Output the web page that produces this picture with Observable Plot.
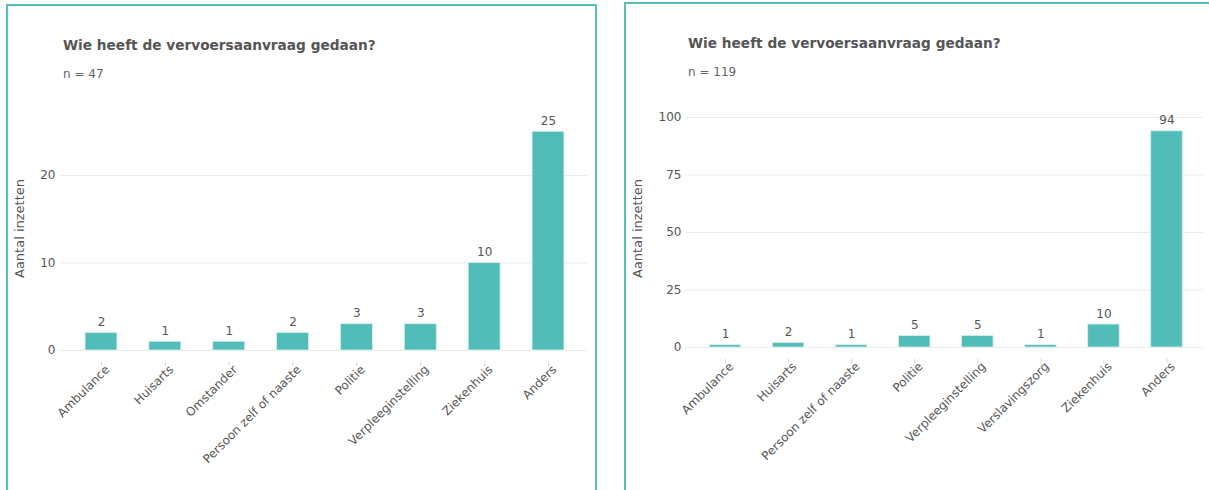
<!DOCTYPE html>
<html>
<head>
<meta charset="utf-8">
<script src="https://cdn.jsdelivr.net/npm/d3@7"></script>
<script src="https://cdn.jsdelivr.net/npm/@observablehq/plot@0.6"></script>
<style>
  html, body { margin: 0; padding: 0; background: #fff; width: 1209px; height: 490px; overflow: hidden; position: relative; font-family: "DejaVu Sans", sans-serif; }
  .panel { position: absolute; border: 2px solid #56bfba; box-sizing: border-box; }
  .title { position: absolute; font-size: 13.7px; font-weight: bold; color: #555; line-height: 1; white-space: nowrap; }
  .sub { position: absolute; font-size: 12px; color: #666; line-height: 1; white-space: nowrap; }
  .chart { position: absolute; }
  .chart svg { overflow: visible; }
</style>
</head>
<body>
<div class="panel" style="left:6px; top:4px; width:591px; height:520px;"></div>
<div class="panel" style="left:624px; top:2px; width:620px; height:520px;"></div>
<div class="title" style="left:63px; top:39px;">Wie heeft de vervoersaanvraag gedaan?</div>
<div class="sub" style="left:63px; top:68px;">n = 47</div>
<div class="title" style="left:688px; top:37px;">Wie heeft de vervoersaanvraag gedaan?</div>
<div class="sub" style="left:688px; top:66px;">n = 119</div>
<div id="left" class="chart" style="left:0px; top:90px;"></div>
<div id="right" class="chart" style="left:610px; top:90px;"></div>
<script>
// Left chart (n = 47)
const categoriesA = ["Ambulance", "Huisarts", "Omstander", "Persoon zelf of naaste", "Politie", "Verpleeginstelling", "Ziekenhuis", "Anders"];
const valuesA = [2, 1, 1, 2, 3, 3, 10, 25];
const yTicksA = [0, 10, 20];

// Right chart (n = 119)
const categoriesB = ["Ambulance", "Huisarts", "Persoon zelf of naaste", "Politie", "Verpleeginstelling", "Verslavingszorg", "Ziekenhuis", "Anders"];
const valuesB = [1, 2, 1, 5, 5, 1, 10, 94];
const yTicksB = [0, 25, 50, 75, 100];

const yLabel = "Aantal inzetten";
const barColor = "#52bcb8";
const textColor = "#555";

function makeChart({cats, vals, ticks, width, height, marginLeft, marginRight, marginTop, marginBottom, xRange, yDomain, yRange, labelDx}) {
  const data = cats.map((c, i) => ({cat: c, val: vals[i]}));
  return Plot.plot({
    width, height, marginLeft, marginRight, marginTop, marginBottom,
    style: {fontFamily: "DejaVu Sans, sans-serif", fontSize: "12px", color: textColor, background: "transparent"},
    x: {domain: cats, range: xRange, padding: 0.5, round: false},
    y: {domain: yDomain, range: yRange},
    marks: [
      Plot.gridY(ticks, {stroke: "#ebebeb", strokeOpacity: 1, strokeWidth: 1}),
      Plot.axisY(ticks, {tickSize: 0, tickPadding: 4, fill: "#555", fontSize: 12, label: null}),
      Plot.axisX({tickSize: 4, dy: 12, text: null, stroke: "#d6d6d6", label: null}),
      Plot.axisX({tickSize: 0, tickPadding: 0, tickRotate: -45, dx: 6, dy: 17, fill: "#555", fontSize: 12, label: null}),
      Plot.barY(data, {x: "cat", y: "val", fill: barColor, stroke: "#d8f0ee", strokeWidth: 0.8}),
      Plot.text(data, {x: "cat", y: "val", text: d => String(d.val), dy: -7, lineAnchor: "bottom", fill: "#555", fontSize: 12}),
      Plot.text([yLabel], {frameAnchor: "left", dx: labelDx, rotate: -90, textAnchor: "middle", fill: "#555", fontSize: 13})
    ]
  });
}

// Left: y0 at page 350 (svg 260), 8.75 px per unit
document.getElementById("left").append(makeChart({
  cats: categoriesA, vals: valuesA, ticks: yTicksA,
  width: 596, height: 400, marginLeft: 59, marginRight: 9, marginTop: 16, marginBottom: 140,
  xRange: [53.1, 595.9], yDomain: [0, 25], yRange: [260, 260 - 25 * 8.75], labelDx: -40
}));

// Right: y0 at page 347 (svg 257), 2.3 px per unit
document.getElementById("right").append(makeChart({
  cats: categoriesB, vals: valuesB, ticks: yTicksB,
  width: 599, height: 400, marginLeft: 75, marginRight: 6, marginTop: 19, marginBottom: 143,
  xRange: [67.7, 603.8], yDomain: [0, 100], yRange: [257, 257 - 100 * 2.3], labelDx: -48
}));
</script>
</body>
</html>
